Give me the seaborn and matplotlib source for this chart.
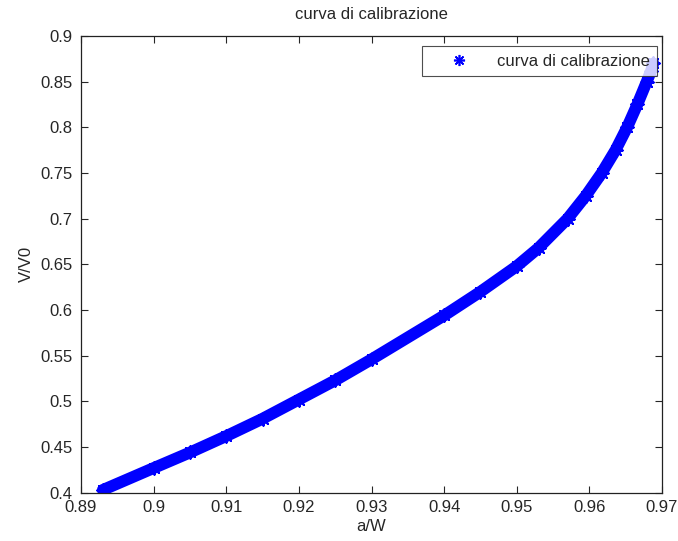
import matplotlib
matplotlib.use("Agg")
import matplotlib.pyplot as plt
import seaborn as sns
import pandas as pd
from matplotlib.lines import Line2D

# calibration curve: normalised potential drop vs normalised crack length
a_over_w = [0.8930, 0.9000, 0.9050, 0.9100, 0.9150, 0.9200, 0.9250, 0.9300,
            0.9400, 0.9450, 0.9500, 0.9530, 0.9570, 0.9595, 0.9617, 0.9636,
            0.9652, 0.9666, 0.9679, 0.9685, 0.9688]
v_over_v0 = [0.403, 0.427, 0.444, 0.462, 0.481, 0.502, 0.523, 0.546,
             0.594, 0.620, 0.648, 0.668, 0.700, 0.725, 0.750, 0.775,
             0.800, 0.825, 0.850, 0.862, 0.870]
x_ticks = [0.89, 0.90, 0.91, 0.92, 0.93, 0.94, 0.95, 0.96, 0.97]
x_ticklabels = ["0.89", "0.9", "0.91", "0.92", "0.93", "0.94", "0.95", "0.96", "0.97"]
y_ticks = [0.40, 0.45, 0.50, 0.55, 0.60, 0.65, 0.70, 0.75, 0.80, 0.85, 0.90]
y_ticklabels = ["0.4", "0.45", "0.5", "0.55", "0.6", "0.65", "0.7", "0.75", "0.8", "0.85", "0.9"]
series_label = "curva di calibrazione"

df = pd.DataFrame({"a/W": a_over_w, "V/V0": v_over_v0})

sns.set_theme(style="white")
plt.rcParams["font.family"] = ["Liberation Sans", "DejaVu Sans"]

fig = plt.figure(figsize=(6.78, 5.41), dpi=100)
ax = fig.add_axes([0.1195, 0.0893, 0.8569, 0.8442])

blue = "#0000ff"
star = (8, 2, 0)
txt = "#262626"

# dense band of asterisks along the curve
sns.lineplot(data=df, x="a/W", y="V/V0", ax=ax, sort=False, color=blue,
             lw=8.5, legend=False, solid_capstyle="round",
             solid_joinstyle="round")
sns.scatterplot(data=df, x="a/W", y="V/V0", ax=ax, color=blue, marker=star,
                s=80, linewidth=1.5, edgecolor=blue, legend=False)

ax.set_xlim(0.89, 0.97)
ax.set_ylim(0.40, 0.90)
ax.set_xticks(x_ticks)
ax.set_xticklabels(x_ticklabels)
ax.set_yticks(y_ticks)
ax.set_yticklabels(y_ticklabels)

ax.tick_params(direction="in", length=5, width=0.8, colors=txt,
               labelsize=12, top=True, right=True, bottom=True, left=True)
ax.tick_params(axis="x", pad=5)
ax.tick_params(axis="y", pad=6)
for s in ax.spines.values():
    s.set_visible(True)
    s.set_color("#222222")
    s.set_linewidth(0.9)

ax.set_xlabel("a/W", fontsize=12, color=txt, labelpad=3)
ax.set_ylabel("V/V0", fontsize=12, color=txt, labelpad=5)
ax.set_title(series_label, fontsize=12, color=txt, pad=12)

handle = Line2D([], [], linestyle="none", marker=star, color=blue,
                markersize=8, markeredgewidth=1.2)
leg = ax.legend([handle], [series_label], loc="upper right",
                bbox_to_anchor=(0.9914, 0.978), borderaxespad=0,
                fontsize=12, frameon=True, fancybox=False,
                handletextpad=0.5, borderpad=0.45, handlelength=3.5)
leg.get_frame().set_edgecolor("#222222")
leg.get_frame().set_linewidth(0.8)
for t in leg.get_texts():
    t.set_color(txt)

fig.savefig("out.png", dpi=100)
